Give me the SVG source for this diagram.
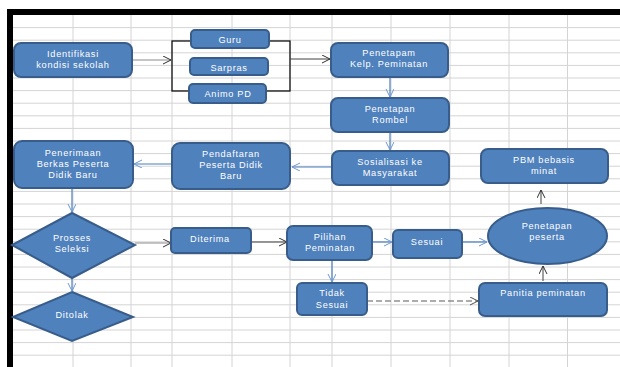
<svg xmlns="http://www.w3.org/2000/svg" width="620" height="367" viewBox="0 0 620 367">
<style>
.n{fill:#4f81bd;stroke:#385d8a;stroke-width:2}
.t{font-family:"Liberation Sans",Arial,sans-serif;font-size:9.2px;fill:#ffffff;text-anchor:middle;letter-spacing:0.7px}
.grid{stroke:#d4d4d4;stroke-width:1;fill:none}
.cb{stroke:#4a7ebb;stroke-width:1.2;fill:none}
.ck{stroke:#404040;stroke-width:1;fill:none}
.cg{stroke:#8c8c8c;stroke-width:1.2;fill:none}
.cd{stroke:#5a5a5a;stroke-width:1.2;fill:none;stroke-dasharray:6,3}
</style>
<defs>
<marker id="ab" markerUnits="userSpaceOnUse" markerWidth="10" markerHeight="10" refX="8" refY="4" orient="auto"><path d="M0,0 L8,4 L0,8" fill="none" stroke="#6f97cf" stroke-width="1"/></marker>
<marker id="ak" markerUnits="userSpaceOnUse" markerWidth="10" markerHeight="10" refX="8" refY="4" orient="auto"><path d="M0,0 L8,4 L0,8" fill="none" stroke="#303030" stroke-width="1"/></marker>
<marker id="ag" markerUnits="userSpaceOnUse" markerWidth="10" markerHeight="10" refX="8" refY="4" orient="auto"><path d="M0,0 L8,4 L0,8" fill="none" stroke="#505050" stroke-width="1"/></marker>
</defs>
<rect width="620" height="367" fill="#ffffff"/>
<g id="grid">
<path class="grid" d="M13,27.6H620M13,40.2H620M13,52.8H620M13,65.4H620M13,78H620M13,90.6H620M13,103.2H620M13,115.8H620M13,128.4H620M13,141H620M13,153.6H620M13,166.2H620M13,178.8H620M13,191.4H620M13,204H620M13,216.6H620M13,229.2H620M13,241.8H620M13,254.4H620M13,267H620M13,279.6H620M13,292.2H620M13,304.8H620M13,317.4H620M13,330H620M13,342.6H620M13,355.2H620M73,15V367M131,15V367M172,15V367M232,15V367M290,15V367M332,15V367M391,15V367M450,15V367M509,15V367M567.5,15V367"/>
</g>
<g id="frame">
<rect x="7" y="9" width="613" height="6" fill="#000"/>
<rect x="7" y="9" width="6" height="358" fill="#000"/>
</g>
<g id="bracket"><rect x="172" y="41" width="118" height="50" fill="none" stroke="#000" stroke-width="1.2"/></g>
<g id="connectors">
<path class="cg" d="M132,60H171" marker-end="url(#ak)"/>
<path class="ck" d="M290,59H330" marker-end="url(#ak)"/>
<path class="cb" d="M390,77V97" marker-end="url(#ab)"/>
<path class="cb" d="M390,132V150" marker-end="url(#ab)"/>
<path class="cb" d="M332,167H292" marker-end="url(#ab)"/>
<path class="cb" d="M172,164H134" marker-end="url(#ab)"/>
<path class="cb" d="M72,188V212" marker-end="url(#ab)"/>
<path class="cg" d="M135,243H171" marker-end="url(#ak)"/>
<path class="ck" d="M251,242H287" marker-end="url(#ak)"/>
<path class="cb" d="M372,242H392" marker-end="url(#ab)"/>
<path class="cb" d="M462,242H487" marker-end="url(#ab)"/>
<path class="ck" d="M541,204V190" marker-end="url(#ak)"/>
<path class="cb" d="M332,260V282" marker-end="url(#ab)"/>
<path class="cd" d="M367,301H478" marker-end="url(#ag)"/>
<path class="ck" d="M543,281V266" marker-end="url(#ak)"/>
<path class="cb" d="M72,278V291" marker-end="url(#ab)"/>
</g>
<g id="identifikasi"><rect class="n" x="14" y="43" width="118" height="34" rx="7"/><text class="t" x="73" y="56.5">Identifikasi</text><text class="t" x="73" y="67.5">kondisi sekolah</text></g>
<g id="guru"><rect class="n" x="191" y="30" width="78" height="18" rx="4"/><text class="t" x="230" y="42.5">Guru</text></g>
<g id="sarpras"><rect class="n" x="190" y="58" width="78" height="17" rx="4"/><text class="t" x="229" y="71">Sarpras</text></g>
<g id="animo"><rect class="n" x="189" y="84" width="77" height="19" rx="4"/><text class="t" x="228" y="97">Animo PD</text></g>
<g id="penetapam"><rect class="n" x="331" y="43" width="117" height="34" rx="7"/><text class="t" x="389" y="56">Penetapam</text><text class="t" x="389" y="66.8">Kelp. Peminatan</text></g>
<g id="rombel"><rect class="n" x="331" y="98" width="118" height="34" rx="7"/><text class="t" x="390" y="112">Penetapan</text><text class="t" x="390" y="122.8">Rombel</text></g>
<g id="sosialisasi"><rect class="n" x="332" y="151" width="117" height="34" rx="7"/><text class="t" x="390" y="165">Sosialisasi ke</text><text class="t" x="390" y="176">Masyarakat</text></g>
<g id="pendaftaran"><rect class="n" x="172" y="143" width="118" height="46" rx="8"/><text class="t" x="231" y="157">Pendaftaran</text><text class="t" x="231" y="168">Peserta Didik</text><text class="t" x="231" y="179">Baru</text></g>
<g id="penerimaan"><rect class="n" x="14" y="141" width="119" height="47" rx="8"/><text class="t" x="73" y="156">Penerimaan</text><text class="t" x="73" y="167">Berkas Peserta</text><text class="t" x="73" y="178">Didik Baru</text></g>
<g id="pbm"><rect class="n" x="481" y="149" width="127" height="34" rx="7"/><text class="t" x="544" y="163">PBM bebasis</text><text class="t" x="544" y="174">minat</text></g>
<g id="seleksi"><polygon class="n" points="72,213 135,245 72,278 12,245"/><text class="t" x="72" y="241">Prosses</text><text class="t" x="72" y="252">Seleksi</text></g>
<g id="diterima"><rect class="n" x="171" y="228" width="80" height="25" rx="4"/><text class="t" x="210" y="242">Diterima</text></g>
<g id="pilihan"><rect class="n" x="287" y="226" width="85" height="34" rx="6"/><text class="t" x="330" y="240">Pilihan</text><text class="t" x="330" y="251">Peminatan</text></g>
<g id="sesuai"><rect class="n" x="393" y="230" width="69" height="28" rx="5"/><text class="t" x="427" y="244.5">Sesuai</text></g>
<g id="penetapanpeserta"><ellipse class="n" cx="547.5" cy="236" rx="59.5" ry="28"/><text class="t" x="547" y="228.5">Penetapan</text><text class="t" x="547" y="240">peserta</text></g>
<g id="tidaksesuai"><rect class="n" x="297" y="283" width="70" height="32" rx="5"/><text class="t" x="332" y="296">Tidak</text><text class="t" x="332" y="307.5">Sesuai</text></g>
<g id="panitia"><rect class="n" x="479" y="283" width="128" height="33" rx="6"/><text class="t" x="543" y="296">Panitia peminatan</text></g>
<g id="ditolak"><polygon class="n" points="72,292 133,317 72,341 13,317"/><text class="t" x="72" y="317.5">Ditolak</text></g>
</svg>
